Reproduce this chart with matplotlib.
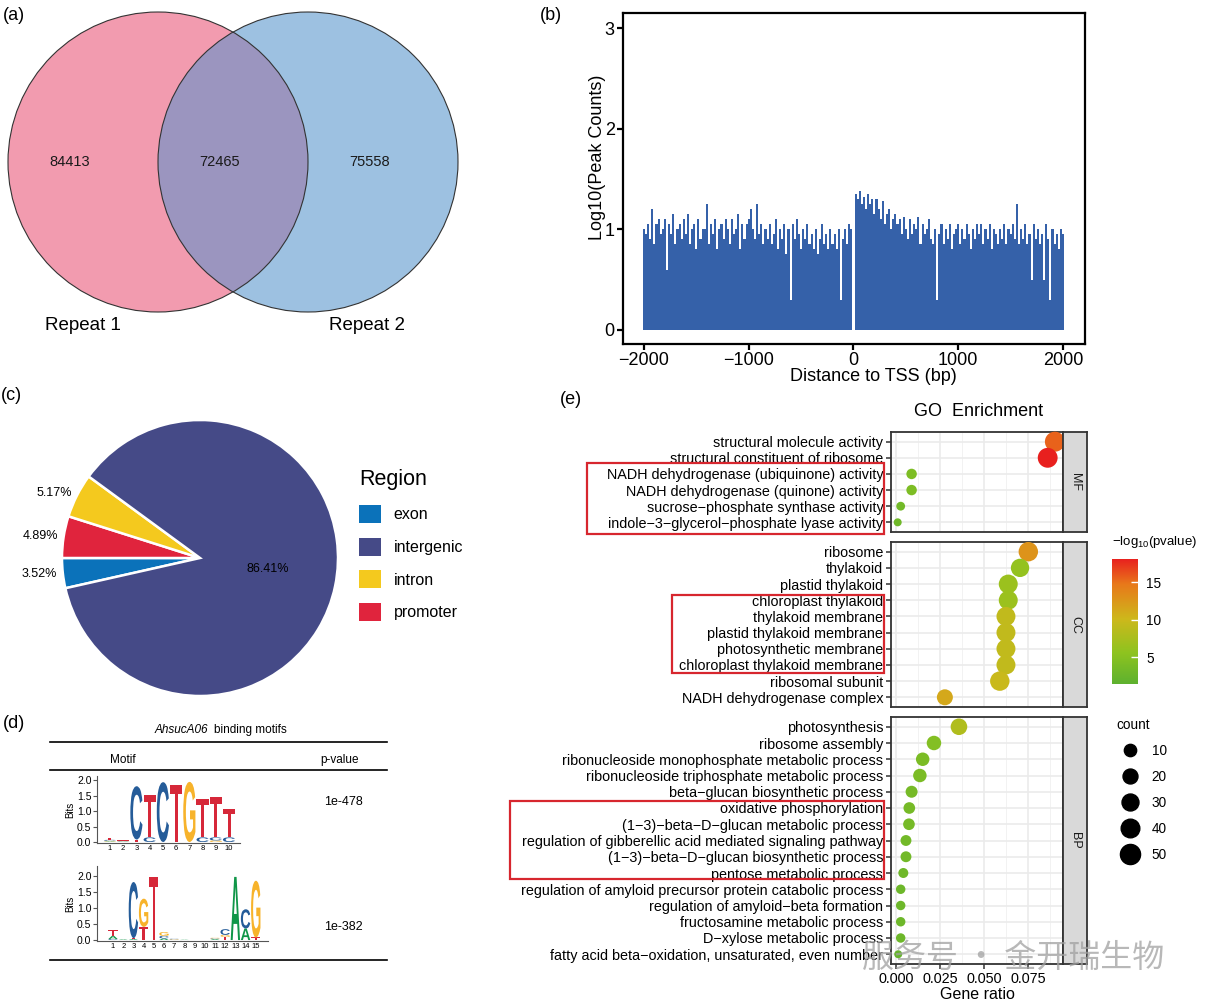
import numpy as np
import matplotlib
matplotlib.use('Agg')
import matplotlib.pyplot as plt
import matplotlib.cm as cm
from matplotlib.patches import Circle, Rectangle, PathPatch, Patch
from matplotlib.lines import Line2D
from matplotlib.textpath import TextPath
from matplotlib.font_manager import FontProperties
from matplotlib.transforms import Affine2D, blended_transform_factory
from matplotlib.colors import LinearSegmentedColormap, Normalize

plt.rcParams['font.family'] = ['Liberation Sans', 'DejaVu Sans']

# ---------------- data ----------------
# (a) venn
venn_names = ['Repeat 1', 'Repeat 2']
venn_counts = [84413, 72465, 75558]   # only 1, both, only 2

# (b) peak distribution around TSS, 20 bp bins
tss_bins = np.arange(-2000, 2001, 20)
tss_log_counts = [
    1.00, 0.95, 1.05, 0.90, 1.20, 0.85, 1.05, 1.10, 0.95, 1.00,
    1.10, 0.60, 1.05, 0.95, 1.15, 0.85, 1.00, 1.05, 0.90, 1.10,
    0.95, 1.15, 0.85, 1.00, 1.05, 0.80, 1.10, 0.90, 1.00, 1.00,
    1.25, 0.85, 1.05, 0.95, 1.10, 0.80, 1.00, 1.05, 0.90, 1.10,
    1.00, 0.85, 1.10, 0.95, 1.00, 1.15, 0.80, 1.05, 0.90, 1.05,
    1.10, 1.20, 1.00, 0.90, 1.25, 0.95, 1.05, 0.85, 1.00, 0.90,
    1.05, 0.85, 0.95, 1.10, 0.80, 1.00, 0.90, 1.05, 0.75, 1.00,
    0.30, 1.05, 0.90, 1.10, 0.95, 0.80, 1.00, 0.90, 1.05, 0.85,
    0.95, 0.80, 1.00, 0.75, 0.90, 1.05, 0.85, 0.95, 0.80, 1.00,
    0.85, 0.95, 0.80, 1.00, 0.30, 0.90, 1.00, 0.85, 1.05, 1.00,
    0.00, 1.35, 1.30, 1.38, 1.25, 1.32, 1.20, 1.35, 1.25, 1.30,
    1.15, 1.30, 1.20, 1.10, 1.28, 1.05, 1.15, 1.20, 1.00, 1.10,
    1.15, 1.05, 1.10, 0.95, 1.12, 1.00, 0.90, 1.10, 0.95, 1.05,
    1.00, 1.12, 0.85, 1.05, 0.95, 1.00, 1.10, 0.90, 0.85, 1.00,
    0.30, 0.95, 1.05, 0.85, 1.00, 0.90, 1.05, 0.80, 0.95, 1.00,
    1.05, 0.85, 1.00, 0.90, 1.05, 0.95, 0.80, 1.00, 0.90, 1.05,
    0.95, 1.05, 0.85, 1.00, 0.90, 1.05, 0.80, 1.00, 0.95, 0.85,
    1.00, 0.90, 1.05, 0.85, 1.00, 0.95, 1.05, 0.90, 1.25, 0.85,
    1.00, 0.90, 1.05, 0.85, 0.95, 0.50, 1.05, 0.90, 1.00, 0.85,
    0.95, 0.50, 1.05, 0.90, 0.30, 1.00, 0.85, 0.95, 0.80, 1.00,
    0.95,
]

# (c) genomic region
regions = ['exon', 'intergenic', 'intron', 'promoter']
region_pct = [3.52, 86.41, 5.17, 4.89]
region_colors = ['#0B72BA', '#454A87', '#F4C91E', '#E0243D']

# (d) motifs: letters bottom -> top, (letter, bits)
motif1 = [
    [('A', 0.02), ('G', 0.02), ('C', 0.03), ('T', 0.07)],
    [('G', 0.01), ('A', 0.01), ('C', 0.01), ('T', 0.02)],
    [('T', 0.08), ('C', 1.72)],
    [('C', 0.15), ('T', 1.36)],
    [('C', 1.93)],
    [('T', 1.84)],
    [('G', 1.94)],
    [('C', 0.15), ('T', 1.25)],
    [('G', 0.05), ('C', 0.10), ('T', 1.29)],
    [('C', 0.15), ('T', 0.90)],
]
motif2 = [
    [('C', 0.03), ('A', 0.10), ('T', 0.17)],
    [('A', 0.02), ('T', 0.02)],
    [('A', 0.03), ('T', 0.03), ('C', 1.75)],
    [('T', 0.41), ('G', 0.88)],
    [('T', 1.96)],
    [('A', 0.05), ('C', 0.08), ('G', 0.12)],
    [('G', 0.02), ('C', 0.02)],
    [('A', 0.01)],
    [],
    [],
    [('A', 0.03), ('C', 0.02), ('G', 0.02)],
    [('T', 0.10), ('G', 0.06), ('C', 0.18)],
    [('A', 1.97)],
    [('A', 0.36), ('C', 0.60)],
    [('T', 0.08), ('G', 1.77)],
]
motif_pvals = ['1e-478', '1e-382']
letter_colors = {'A': '#109648', 'C': '#255C99', 'G': '#F7B32B', 'T': '#D62839'}

# (e) GO enrichment
mf_terms = ['structural molecule activity', 'structural constituent of ribosome',
            'NADH dehydrogenase (ubiquinone) activity', 'NADH dehydrogenase (quinone) activity',
            'sucrose\u2212phosphate synthase activity',
            'indole\u22123\u2212glycerol\u2212phosphate lyase activity']
mf_ratio = [0.0903, 0.0862, 0.0089, 0.0089, 0.0027, 0.0010]
mf_logp = [15.6, 18.1, 4.2, 4.2, 3.2, 3.0]
mf_count = [49, 48, 5, 5, 2, 1]

cc_terms = ['ribosome', 'thylakoid', 'plastid thylakoid', 'chloroplast thylakoid',
            'thylakoid membrane', 'plastid thylakoid membrane', 'photosynthetic membrane',
            'chloroplast thylakoid membrane', 'ribosomal subunit', 'NADH dehydrogenase complex']
cc_ratio = [0.0752, 0.0705, 0.0638, 0.0638, 0.0625, 0.0625, 0.0625, 0.0625, 0.0590, 0.0278]
cc_logp = [12.8, 6.0, 6.5, 6.5, 9.2, 9.2, 9.2, 9.2, 9.8, 11.2]
cc_count = [45, 38, 42, 42, 42, 42, 42, 42, 45, 25]

bp_terms = ['photosynthesis', 'ribosome assembly',
            'ribonucleoside monophosphate metabolic process',
            'ribonucleoside triphosphate metabolic process',
            'beta\u2212glucan biosynthetic process', 'oxidative phosphorylation',
            '(1\u22123)\u2212beta\u2212D\u2212glucan metabolic process',
            'regulation of gibberellic acid mediated signaling pathway',
            '(1\u22123)\u2212beta\u2212D\u2212glucan biosynthetic process',
            'pentose metabolic process',
            'regulation of amyloid precursor protein catabolic process',
            'regulation of amyloid\u2212beta formation', 'fructosamine metabolic process',
            'D\u2212xylose metabolic process',
            'fatty acid beta\u2212oxidation, unsaturated, even number']
bp_ratio = [0.0358, 0.0216, 0.0152, 0.0136, 0.0089, 0.0076, 0.0074, 0.0057, 0.0057,
            0.0042, 0.0027, 0.0027, 0.0027, 0.0027, 0.0013]
bp_logp = [8.0, 4.6, 4.0, 4.0, 3.6, 3.5, 3.5, 3.2, 3.2, 3.0, 2.8, 2.8, 2.8, 2.8, 2.2]
bp_count = [28, 18, 14, 14, 9, 8, 8, 6, 6, 4, 3, 3, 3, 3, 1]

highlight = {'MF': (2, 5), 'CC': (3, 7), 'BP': (5, 9)}
legend_counts = [10, 20, 30, 40, 50]

# ---------------- layout helpers ----------------
W, H = 1206, 1006
fig = plt.figure(figsize=(W / 100, H / 100), dpi=100)


def px_axes(x0, y0, x1, y1):
    return fig.add_axes([x0 / W, 1 - y1 / H, (x1 - x0) / W, (y1 - y0) / H])


def fx(x):
    return x / W


def fy(y):
    return 1 - y / H


def ftext(x, y, s, **kw):
    fig.text(fx(x), fy(y), s, **kw)


def hline(x0, x1, y, lw=1.2):
    fig.add_artist(Line2D([fx(x0), fx(x1)], [fy(y), fy(y)], transform=fig.transFigure,
                          color='black', lw=lw))


# ---------------- (a) venn ----------------
ftext(3, 15, '(a)', fontsize=13, va='center')
axa = px_axes(0, 0, 500, 350)
axa.set_xlim(0, 500)
axa.set_ylim(350, 0)
axa.axis('off')
axa.add_patch(Circle((158, 162), 150, fc='#F29BAF', ec='none'))
axa.add_patch(Circle((308, 162), 150, fc='#9DC1E1', ec='none'))
ov = Circle((158, 162), 150, fc='#9B95BF', ec='none')
axa.add_patch(ov)
ov.set_clip_path(Circle((308, 162), 150, transform=axa.transData))
axa.add_patch(Circle((158, 162), 150, fc='none', ec='#333333', lw=0.8))
axa.add_patch(Circle((308, 162), 150, fc='none', ec='#333333', lw=0.8))
for xx, v in zip([70, 220, 370], venn_counts):
    axa.text(xx, 162, str(v), ha='center', va='center', fontsize=10.5, color='#1a1a1a')
axa.text(83, 325, venn_names[0], ha='center', va='center', fontsize=13.5)
axa.text(367, 325, venn_names[1], ha='center', va='center', fontsize=13.5)

# ---------------- (b) TSS distribution ----------------
ftext(540, 15, '(b)', fontsize=13, va='center')
axb = px_axes(623, 13, 1085, 344)
axb.bar(tss_bins, tss_log_counts, width=20, color='#3561A9', lw=0)
axb.set_xlim(-2200, 2210)
axb.set_ylim(-0.14, 3.15)
axb.set_xticks([-2000, -1000, 0, 1000, 2000])
axb.set_yticks([0, 1, 2, 3])
for s in axb.spines.values():
    s.set_linewidth(1.6)
axb.tick_params(length=4, width=1.6, labelsize=13, pad=2)
axb.set_xlabel('Distance to TSS (bp)', fontsize=13)
axb.set_ylabel('Log10(Peak Counts)', fontsize=13)
axb.xaxis.set_label_coords(0.543, -0.097)
axb.yaxis.set_label_coords(-0.056, 0.565)
axb.xaxis.label.set_va('center')
axb.yaxis.label.set_va('center')

# ---------------- (c) pie ----------------
ftext(1, 396, '(c)', fontsize=13, va='center')
axc = px_axes(62, 420, 338, 696)
pie_order = ['exon', 'promoter', 'intron', 'intergenic']
pie_vals = [region_pct[regions.index(r)] for r in pie_order]
pie_cols = [region_colors[regions.index(r)] for r in pie_order]
wedges, _ = axc.pie(pie_vals, colors=pie_cols, startangle=180 + pie_vals[0] * 3.6,
                    counterclock=False, wedgeprops=dict(edgecolor='white', linewidth=1.8))
axc.set_xlim(-1, 1)
axc.set_ylim(-1, 1)
for w, r, v in zip(wedges, pie_order, pie_vals):
    ang = np.deg2rad((w.theta1 + w.theta2) / 2)
    if r == 'intergenic':
        axc.text(0.5 * np.cos(ang), 0.5 * np.sin(ang) + 0.02, '%.2f%%' % v,
                 ha='center', va='center', fontsize=9)
    else:
        axc.text(1.04 * np.cos(ang), 1.04 * np.sin(ang), '%.2f%%' % v,
                 ha='right', va='center', fontsize=9)
handles = [Patch(fc=c, ec='none') for c in region_colors]
fig.legend(handles, regions, title='Region', loc='upper left',
           bbox_to_anchor=(fx(345), fy(455)), frameon=False, fontsize=11.5,
           title_fontsize=15.5, handlelength=1.35, handleheight=1.35,
           labelspacing=0.92, handletextpad=0.8, alignment='left')

# ---------------- (d) motifs ----------------
ftext(3, 724, '(d)', fontsize=13, va='center')
ftext(208, 730, 'AhsucA06', fontsize=8.5, style='italic', ha='right', va='center')
ftext(214, 730, 'binding motifs', fontsize=8.5, ha='left', va='center')
hline(50, 387, 742)
ftext(123, 760, 'Motif', fontsize=8.5, ha='center', va='center')
ftext(340, 760, 'p-value', fontsize=8.5, ha='center', va='center')
hline(50, 387, 770)
hline(50, 387, 960)

letter_font = FontProperties(family='Liberation Sans', weight='bold')


def draw_logo(ax, motif):
    for i, col in enumerate(motif):
        y0 = 0.0
        for ch, h in col:
            tp = TextPath((0, 0), ch, size=1, prop=letter_font)
            bb = tp.get_extents()
            wdt = 0.92
            tr = Affine2D().translate(-bb.x0, -bb.y0).scale(wdt / bb.width, h / bb.height) \
                .translate(i + 1 - wdt / 2, y0)
            ax.add_patch(PathPatch(tr.transform_path(tp), fc=letter_colors[ch], ec='none'))
            y0 += h


def style_logo(ax, n):
    ax.set_xticks(range(1, n + 1))
    ax.set_yticks([0, 0.5, 1.0, 1.5, 2.0])
    ax.set_yticklabels(['0.0', '0.5', '1.0', '1.5', '2.0'])
    for s in ['top', 'right']:
        ax.spines[s].set_visible(False)
    for s in ['left', 'bottom']:
        ax.spines[s].set_color('#555555')
        ax.spines[s].set_linewidth(0.8)
    ax.tick_params(axis='y', length=3, width=0.8, color='#555555', labelsize=7.5, pad=1)
    ax.tick_params(axis='x', length=0, labelsize=5.5, pad=1.5)
    ax.set_ylabel('Bits', fontsize=7, labelpad=1)
    ax.patch.set_alpha(0)


ax1 = px_axes(97, 776, 240, 843)
ax1.set_xlim(0.02, 10.83)
ax1.set_ylim(-0.032, 2.13)
draw_logo(ax1, motif1)
style_logo(ax1, len(motif1))
ax2 = px_axes(97, 866, 268, 941)
ax2.set_xlim(-0.57, 16.2)
ax2.set_ylim(-0.03, 2.31)
draw_logo(ax2, motif2)
style_logo(ax2, len(motif2))
ftext(343, 802, motif_pvals[0], fontsize=9, ha='center', va='center')
ftext(343, 927, motif_pvals[1], fontsize=9, ha='center', va='center')

# ---------------- (e) GO enrichment ----------------
ftext(560, 400, '(e)', fontsize=13, va='center')
ftext(979, 412, 'GO  Enrichment', fontsize=13, ha='center', va='center')

go_cmap = LinearSegmentedColormap.from_list(
    'go', [(0, '#5DB12F'), (0.25, '#8EC31F'), (0.52, '#CDB81B'), (0.8, '#E8781A'), (1, '#E8201E')])
norm = Normalize(1.4, 18.1)


def dot_size(c):
    d = 6 + 2 * np.sqrt(np.asarray(c, dtype=float))
    return (d * 0.72) ** 2


# name, terms, x, colour, size, top px, bottom px, box left px, box pad top/bottom (rows)
facets = [
    ('MF', mf_terms, mf_ratio, mf_logp, mf_count, 432, 532, 587, 0.67, 0.72),
    ('CC', cc_terms, cc_ratio, cc_logp, cc_count, 542, 707, 672, 0.32, 0.5),
    ('BP', bp_terms, bp_ratio, bp_logp, bp_count, 717, 964, 510, 0.43, 0.38),
]
for k, (name, terms, ratio, logp, count, top, bot, box_x, pt, pb) in enumerate(facets):
    ax = px_axes(891, top, 1063, bot)
    n = len(terms)
    ypos = np.arange(n)[::-1]
    ax.scatter(ratio, ypos, s=dot_size(count), c=logp, cmap=go_cmap, norm=norm,
               linewidths=0, zorder=3, clip_on=False)
    ax.set_xlim(-0.0028, 0.0949)
    ax.set_ylim(-0.6, n - 0.4)
    ax.set_yticks(ypos)
    ax.set_yticklabels(terms)
    ax.set_xticks([0, 0.025, 0.05, 0.075])
    ax.set_xticks([0.0125, 0.0375, 0.0625, 0.0875], minor=True)
    ax.set_xticklabels(['0.000', '0.025', '0.050', '0.075'])
    ax.grid(which='major', color='#EBEBEB', lw=1.2)
    ax.grid(which='minor', axis='x', color='#F2F2F2', lw=0.7)
    ax.set_axisbelow(True)
    for s in ax.spines.values():
        s.set_color('#333333')
        s.set_linewidth(1.3)
    ax.tick_params(axis='both', which='major', length=3.5, width=1.1, color='#333333',
                   labelsize=10.4, pad=2)
    ax.tick_params(axis='x', which='minor', length=0)
    if k < 2:
        ax.tick_params(axis='x', labelbottom=False, bottom=False)
    else:
        ax.set_xlabel('Gene ratio', fontsize=11.5, labelpad=1)
    # facet strip
    st = px_axes(1063, top, 1087, bot)
    st.set_facecolor('#D9D9D9')
    st.set_xticks([])
    st.set_yticks([])
    for s in st.spines.values():
        s.set_color('#333333')
        s.set_linewidth(1.3)
    st.text(0.5, 0.5, name, rotation=-90, ha='center', va='center', fontsize=9,
            color='#1a1a1a', transform=st.transAxes)
    # highlight box
    h0, h1 = highlight[name]
    tr = blended_transform_factory(fig.transFigure, ax.transData)
    ax.add_patch(Rectangle((fx(box_x), ypos[h1] - pb), fx(884) - fx(box_x),
                           ypos[h0] - ypos[h1] + pt + pb, transform=tr, fill=False,
                           ec='#D7262E', lw=1.6, clip_on=False, zorder=5))

# colorbar legend
ftext(1112, 542, r'$\mathregular{-log_{10}}$(pvalue)', fontsize=9.5, va='center')
cax = px_axes(1112, 559, 1138, 684)
sm = cm.ScalarMappable(norm=norm, cmap=go_cmap)
cb = fig.colorbar(sm, cax=cax, ticks=[5, 10, 15])
cb.outline.set_visible(False)
cax.tick_params(length=5, width=1, color='white', direction='in', labelsize=9.8, pad=6)

# count legend
cnt_handles = [Line2D([], [], marker='o', ls='', color='black',
                      markersize=np.sqrt(dot_size(c))) for c in legend_counts]
fig.legend(cnt_handles, [str(c) for c in legend_counts], title='count', loc='upper left',
           bbox_to_anchor=(fx(1104), fy(706)), frameon=False, fontsize=9.8,
           title_fontsize=9.8, labelspacing=0.88, handletextpad=0.6, alignment='left')

# watermark
fig.text(fx(862), fy(958), '服务号 · 金开瑞生物', fontsize=23, color='#A0A0A0', alpha=0.75,
         va='center', family=['Noto Sans CJK SC', 'DejaVu Sans'])

fig.savefig('out.png', dpi=100)
